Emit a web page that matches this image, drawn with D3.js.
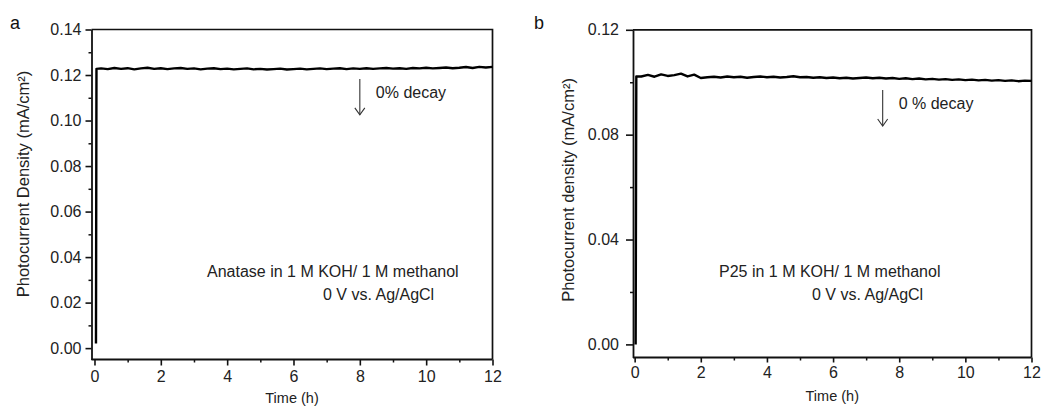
<!DOCTYPE html>
<html><head><meta charset="utf-8">
<script src="https://cdn.jsdelivr.net/npm/d3@7"></script>
<style>
body{margin:0;background:#fff}
svg{display:block}
text{font-family:"Liberation Sans",Arial,Helvetica,sans-serif}
</style>
</head><body>
<svg id="c" width="1043" height="412"></svg>
<script>
// ---- data ----
const timeGrid = [0.2,0.4,0.6,0.8,1.0,1.2,1.4,1.6,1.8,2.0,
  2.2,2.4,2.6,2.8,3.0,3.2,3.4,3.6,3.8,4.0,
  4.2,4.4,4.6,4.8,5.0,5.2,5.4,5.6,5.8,6.0,
  6.2,6.4,6.6,6.8,7.0,7.2,7.4,7.6,7.8,8.0,
  8.2,8.4,8.6,8.8,9.0,9.2,9.4,9.6,9.8,10.0,
  10.2,10.4,10.6,10.8,11.0,11.2,11.4,11.6,11.8,12.0];

const anataseStartTime = [0.045, 0.06];
const anataseStartValue = [0.002, 0.1227];
const anataseValues = [0.1229,0.1226,0.1231,0.1227,0.1230,0.1225,0.1229,0.1232,0.1227,0.1230,
  0.1226,0.1229,0.1231,0.1227,0.1229,0.1225,0.1228,0.1230,0.1226,0.1228,
  0.1225,0.1227,0.1229,0.1225,0.1227,0.1224,0.1226,0.1228,0.1224,0.1226,
  0.1228,0.1225,0.1227,0.1229,0.1226,0.1228,0.1230,0.1226,0.1229,0.1227,
  0.1230,0.1227,0.1229,0.1231,0.1228,0.1230,0.1227,0.1231,0.1229,0.1232,
  0.1229,0.1231,0.1233,0.1230,0.1232,0.1235,0.1231,0.1236,0.1233,0.1236];

const p25StartTime = [0.03, 0.05];
const p25StartValue = [0.000, 0.1022];
const p25Values = [0.1022,0.1028,0.1021,0.1030,0.1024,0.1027,0.1033,0.1022,0.1029,0.1016,
  0.1019,0.1021,0.1018,0.1022,0.1019,0.1021,0.1017,0.1020,0.1022,0.1019,
  0.1021,0.1018,0.1020,0.1023,0.1019,0.1020,0.1017,0.1019,0.1016,0.1018,
  0.1015,0.1017,0.1014,0.1016,0.1018,0.1015,0.1017,0.1014,0.1016,0.1013,
  0.1015,0.1012,0.1014,0.1011,0.1013,0.1010,0.1012,0.1009,0.1011,0.1008,
  0.1010,0.1007,0.1009,0.1006,0.1008,0.1005,0.1007,0.1004,0.1006,0.1005];

const xTicks = [0,2,4,6,8,10,12];
const xMinorTicks = [1,3,5,7,9,11];
const leftYTicks = [0,0.02,0.04,0.06,0.08,0.10,0.12,0.14];
const leftYMinorTicks = [0.01,0.03,0.05,0.07,0.09,0.11,0.13];
const rightYTicks = [0,0.04,0.08,0.12];
const rightYMinorTicks = [0.02,0.06,0.10];

const panelLabels = ["a","b"];
const yTitles = ["Photocurrent Density (mA/cm\u00B2)","Photocurrent density (mA/cm\u00B2)"];
const xTitle = "Time (h)";
const noteLines = [["Anatase in 1 M KOH/ 1 M methanol","0 V vs. Ag/AgCl"],
                   ["P25 in 1 M KOH/ 1 M methanol","0 V vs. Ag/AgCl"]];
const decayLabels = ["0% decay","0 % decay"];
const arrowTimes = [8, 7.5];
const arrowFrom = [0.1182, 0.0970];
const arrowTo = [0.1025, 0.0833];

// ---- drawing ----
const svg = d3.select("#c");
const FONT = 16;

function panel(o){
  const g = svg.append("g");
  const x = d3.scaleLinear().domain(o.xDomain).range(o.xRange);
  const y = d3.scaleLinear().domain(o.yDomain).range(o.yRange);
  const [x0,x1] = o.xRange, [yb,yt] = o.yRange;

  // top & right frame
  g.append("path")
    .attr("d", `M${x0},${yt}H${x1}V${yb}`)
    .attr("fill","none").attr("stroke","#111").attr("stroke-width",1.7);

  // minor y ticks
  g.append("g").attr("transform",`translate(${x0},0)`)
    .call(d3.axisLeft(y).tickValues(o.yMinor).tickSize(3).tickFormat(""))
    .call(s=>{s.select(".domain").remove(); s.selectAll("line").attr("stroke","#111").attr("stroke-width",1.5);});
  // major y
  g.append("g").attr("transform",`translate(${x0},0)`)
    .call(d3.axisLeft(y).tickValues(o.yTicks).tickSize(o.yTickLen).tickPadding(o.yPad)
          .tickSizeOuter(0).tickFormat(d3.format(".2f")))
    .call(s=>{
      s.select(".domain").attr("stroke","#111").attr("stroke-width",1.8);
      s.selectAll("line").attr("stroke","#111").attr("stroke-width",1.6);
      s.selectAll("text").attr("font-size",FONT).attr("fill","#222")
        .attr("font-family",'"Liberation Sans",Arial,sans-serif');
    });

  // minor x ticks
  g.append("g").attr("transform",`translate(0,${yb})`)
    .call(d3.axisBottom(x).tickValues(xMinorTicks).tickSize(3).tickFormat(""))
    .call(s=>{s.select(".domain").remove(); s.selectAll("line").attr("stroke","#111").attr("stroke-width",1.5);});
  // major x
  g.append("g").attr("transform",`translate(0,${yb})`)
    .call(d3.axisBottom(x).tickValues(xTicks).tickSize(o.xTickLen).tickPadding(o.xPad).tickSizeOuter(0))
    .call(s=>{
      s.select(".domain").attr("stroke","#111").attr("stroke-width",1.8)
        .attr("d",`M${x0},0H${x1}`);
      s.selectAll("line").attr("stroke","#111").attr("stroke-width",1.6);
      s.selectAll("text").attr("font-size",FONT).attr("fill","#222")
        .attr("font-family",'"Liberation Sans",Arial,sans-serif');
    });

  // data line
  const pts = o.startT.map((t,i)=>[t,o.startV[i]])
    .concat(timeGrid.map((t,i)=>[t,o.values[i]]));
  g.append("path").datum(pts)
    .attr("d", d3.line().x(d=>x(d[0])).y(d=>y(d[1])))
    .attr("fill","none").attr("stroke","#000").attr("stroke-width",2.4)
    .attr("stroke-linejoin","round");

  // arrow
  const ax = x(o.arrowT), ay1 = y(o.arrowFrom), ay2 = y(o.arrowTo);
  g.append("line").attr("x1",ax).attr("x2",ax).attr("y1",ay1).attr("y2",ay2)
    .attr("stroke","#333").attr("stroke-width",1.1);
  g.append("path").attr("d",`M${ax-5},${ay2-7}L${ax},${ay2}L${ax+5},${ay2-7}`)
    .attr("fill","none").attr("stroke","#333").attr("stroke-width",1.1);
  g.append("text").attr("x",ax+16).attr("y",o.decayY).attr("font-size",FONT).attr("fill","#222")
    .text(o.decay);

  // notes
  g.append("text").attr("x",o.note1X).attr("y",277).attr("font-size",FONT).attr("fill","#222").text(o.notes[0]);
  g.append("text").attr("x",o.note2X).attr("y",300).attr("font-size",FONT).attr("fill","#222").text(o.notes[1]);

  // titles
  g.append("text").attr("transform",`translate(${o.yTitleX},${o.yTitleY}) rotate(-90)`)
    .attr("text-anchor","middle").attr("font-size",16.5).attr("fill","#222").text(o.yTitle);
  g.append("text").attr("x",(x0+x1)/2).attr("y",o.xTitleY).attr("text-anchor","middle")
    .attr("font-size",14.5).attr("fill","#222").text(xTitle);
  g.append("text").attr("x",o.labelX).attr("y",29).attr("font-size",18).attr("fill","#111").text(o.label);
}

panel({
  xDomain:[-0.09,12], xRange:[91.5,492.5],
  yDomain:[-0.005,0.14], yRange:[359.5,29.5],
  yTicks:leftYTicks, yMinor:leftYMinorTicks, yTickLen:6, yPad:4,
  xTickLen:6, xPad:5,
  startT:anataseStartTime, startV:anataseStartValue, values:anataseValues,
  arrowT:arrowTimes[0], arrowFrom:arrowFrom[0], arrowTo:arrowTo[0],
  decay:decayLabels[0], decayY:98,
  notes:noteLines[0], note1X:207, note2X:323,
  yTitle:yTitles[0], yTitleX:29, yTitleY:184, xTitleY:403,
  label:panelLabels[0], labelX:10
});
panel({
  xDomain:[-0.05,12], xRange:[633,1031.5],
  yDomain:[-0.005,0.12], yRange:[357.5,29.8],
  yTicks:rightYTicks, yMinor:rightYMinorTicks, yTickLen:7, yPad:7,
  xTickLen:5, xPad:4,
  startT:p25StartTime, startV:p25StartValue, values:p25Values,
  arrowT:arrowTimes[1], arrowFrom:arrowFrom[1], arrowTo:arrowTo[1],
  decay:decayLabels[1], decayY:109,
  notes:noteLines[1], note1X:719, note2X:812,
  yTitle:yTitles[1], yTitleX:574, yTitleY:190, xTitleY:401,
  label:panelLabels[1], labelX:534
});
</script>
</body></html>
